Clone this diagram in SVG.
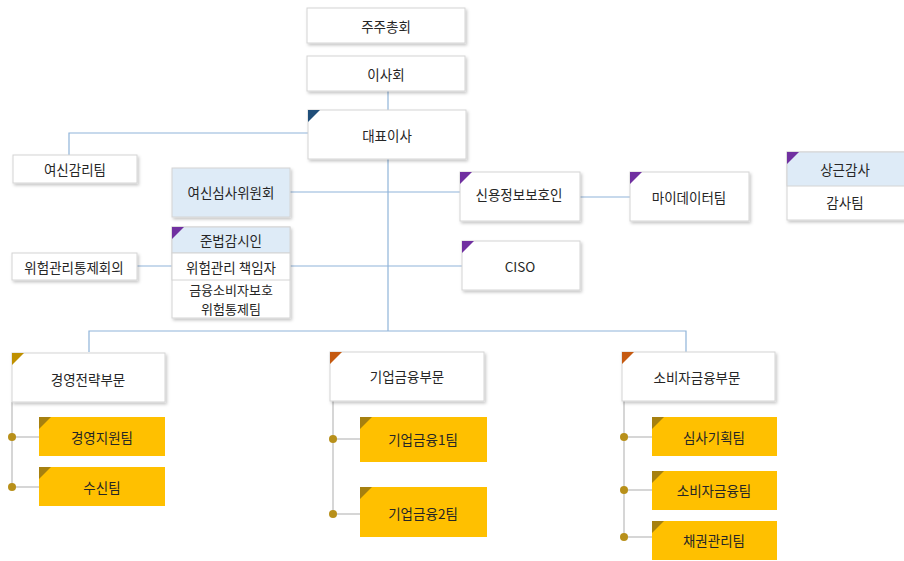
<svg xmlns="http://www.w3.org/2000/svg" width="904" height="561" viewBox="0 0 904 561">
<defs>
<filter id="sh" x="-10%" y="-10%" width="130%" height="140%">
<feDropShadow dx="1.5" dy="2" stdDeviation="1.5" flood-color="#000" flood-opacity="0.22"/>
</filter>
</defs>
<style>
.b{fill:#fff;stroke:#d4d4d4;stroke-width:1;filter:url(#sh)}
.lb{fill:#deebf7;stroke:#d4d4d4;stroke-width:1}
.w{fill:#fff;stroke:#d4d4d4;stroke-width:1}
.y{fill:#ffc000}
.t{font-family:"Noto Sans CJK KR","Noto Sans",sans-serif;font-size:13.5px;fill:#262626;text-anchor:middle;dominant-baseline:central}
.s{font-size:13px}
.c{fill:none;stroke:#8fb4d9;stroke-width:1.2}
.g{fill:none;stroke:#c9c9c9;stroke-width:1.5}
.d{fill:#b8901a}
.tb{fill:#1f4e79}.tp{fill:#7030a0}.tg{fill:#bf9000}.to{fill:#c55a11}.ty{fill:#a6800f}
</style>
<g id="connectors">
<path class="c" d="M388 91V110"/>
<path class="c" d="M388 159V331"/>
<path class="c" d="M308 133H69V155"/>
<path class="c" d="M290 192H460"/>
<path class="c" d="M580 197H630"/>
<path class="c" d="M137 266H172"/>
<path class="c" d="M290 266H462"/>
<path class="c" d="M89 352V331H686V352"/>
<path class="g" d="M12 402V487M12 437H39M12 487H39"/>
<path class="g" d="M333 401V514M333 439H360M333 514H360"/>
<path class="g" d="M624 401V537M624 437H652M624 490H652M624 537H652"/>
<circle class="d" cx="12" cy="437" r="4"/>
<circle class="d" cx="12" cy="487" r="4"/>
<circle class="d" cx="333" cy="439" r="4"/>
<circle class="d" cx="333" cy="514" r="4"/>
<circle class="d" cx="624" cy="437" r="4"/>
<circle class="d" cx="624" cy="490" r="4"/>
<circle class="d" cx="624" cy="537" r="4"/>
</g>
<g id="n-shareholders"><rect class="b" x="307" y="8" width="158" height="35"/><text class="t" x="386" y="26">주주총회</text></g>
<g id="n-board"><rect class="b" x="307" y="56" width="158" height="35"/><text class="t" x="386" y="74">이사회</text></g>
<g id="n-ceo"><rect class="b" x="308" y="110" width="158" height="49"/><path class="tb" d="M308 110h12l-12 12z"/><text class="t" x="387" y="135">대표이사</text></g>
<g id="n-loanaudit"><rect class="b" x="13" y="155" width="124" height="28"/><text class="t" x="75" y="169">여신감리팀</text></g>
<g id="n-loancommittee"><rect class="lb" x="172" y="168" width="118" height="49" style="filter:url(#sh)"/><text class="t" x="231" y="192">여신심사위원회</text></g>
<g id="n-creditinfo"><rect class="b" x="460" y="172" width="120" height="49"/><path class="tp" d="M460 172h12l-12 12z"/><text class="t" x="519" y="194">신용정보보호인</text></g>
<g id="n-mydata"><rect class="b" x="630" y="172" width="119" height="49"/><path class="tp" d="M630 172h12l-12 12z"/><text class="t" x="689" y="197">마이데이터팀</text></g>
<g id="n-ciso"><rect class="b" x="462" y="241" width="118" height="49"/><path class="tp" d="M462 241h12l-12 12z"/><text class="t" x="520" y="266">CISO</text></g>
<g id="n-risk-council"><rect class="b" x="12" y="253" width="125" height="27"/><text class="t" x="74" y="267">위험관리통제회의</text></g>
<g id="n-compliance">
<rect class="w" x="172" y="227" width="118" height="91" style="filter:url(#sh)"/>
<rect class="lb" x="172" y="227" width="118" height="26"/>
<path class="tp" d="M172 227h12l-12 12z"/>
<rect class="w" x="172" y="253" width="118" height="27"/>
<text class="t" x="231" y="240">준법감시인</text>
<text class="t" x="231" y="267">위험관리 책임자</text>
<text class="t s" x="231" y="289">금융소비자보호</text>
<text class="t s" x="231" y="308">위험통제팀</text>
</g>
<g id="n-auditor">
<rect class="w" x="787" y="152" width="130" height="68" style="filter:url(#sh)"/>
<rect class="lb" x="787" y="152" width="130" height="34"/>
<path class="tp" d="M787 152h12l-12 12z"/>
<text class="t" x="845" y="169">상근감사</text>
<text class="t" x="845" y="202">감사팀</text>
</g>
<g id="n-strategy"><rect class="b" x="12" y="353" width="153" height="49"/><path class="tg" d="M12 353h12l-12 12z"/><text class="t" x="88" y="379">경영전략부문</text></g>
<g id="n-corp"><rect class="b" x="330" y="352" width="154" height="49"/><path class="to" d="M330 352h12l-12 12z"/><text class="t" x="407" y="376">기업금융부문</text></g>
<g id="n-consumer"><rect class="b" x="622" y="352" width="153" height="49"/><path class="to" d="M622 352h12l-12 12z"/><text class="t" x="697" y="377">소비자금융부문</text></g>
<g id="n-mgmt"><rect class="y" x="39" y="417" width="126" height="39"/><path class="ty" d="M39 417h12l-12 12z"/><text class="t" x="102" y="437">경영지원팀</text></g>
<g id="n-deposit"><rect class="y" x="39" y="467" width="126" height="39"/><path class="ty" d="M39 467h12l-12 12z"/><text class="t" x="102" y="487">수신팀</text></g>
<g id="n-corp1"><rect class="y" x="360" y="417" width="127" height="45"/><path class="ty" d="M360 417h12l-12 12z"/><text class="t" x="423" y="439">기업금융1팀</text></g>
<g id="n-corp2"><rect class="y" x="360" y="487" width="127" height="50"/><path class="ty" d="M360 487h12l-12 12z"/><text class="t" x="423" y="513">기업금융2팀</text></g>
<g id="n-review"><rect class="y" x="652" y="417" width="125" height="39"/><path class="ty" d="M652 417h12l-12 12z"/><text class="t" x="714" y="437">심사기획팀</text></g>
<g id="n-consumerteam"><rect class="y" x="652" y="471" width="125" height="39"/><path class="ty" d="M652 471h12l-12 12z"/><text class="t" x="714" y="490">소비자금융팀</text></g>
<g id="n-collection"><rect class="y" x="652" y="521" width="125" height="39"/><path class="ty" d="M652 521h12l-12 12z"/><text class="t" x="714" y="540">채권관리팀</text></g>
</svg>
